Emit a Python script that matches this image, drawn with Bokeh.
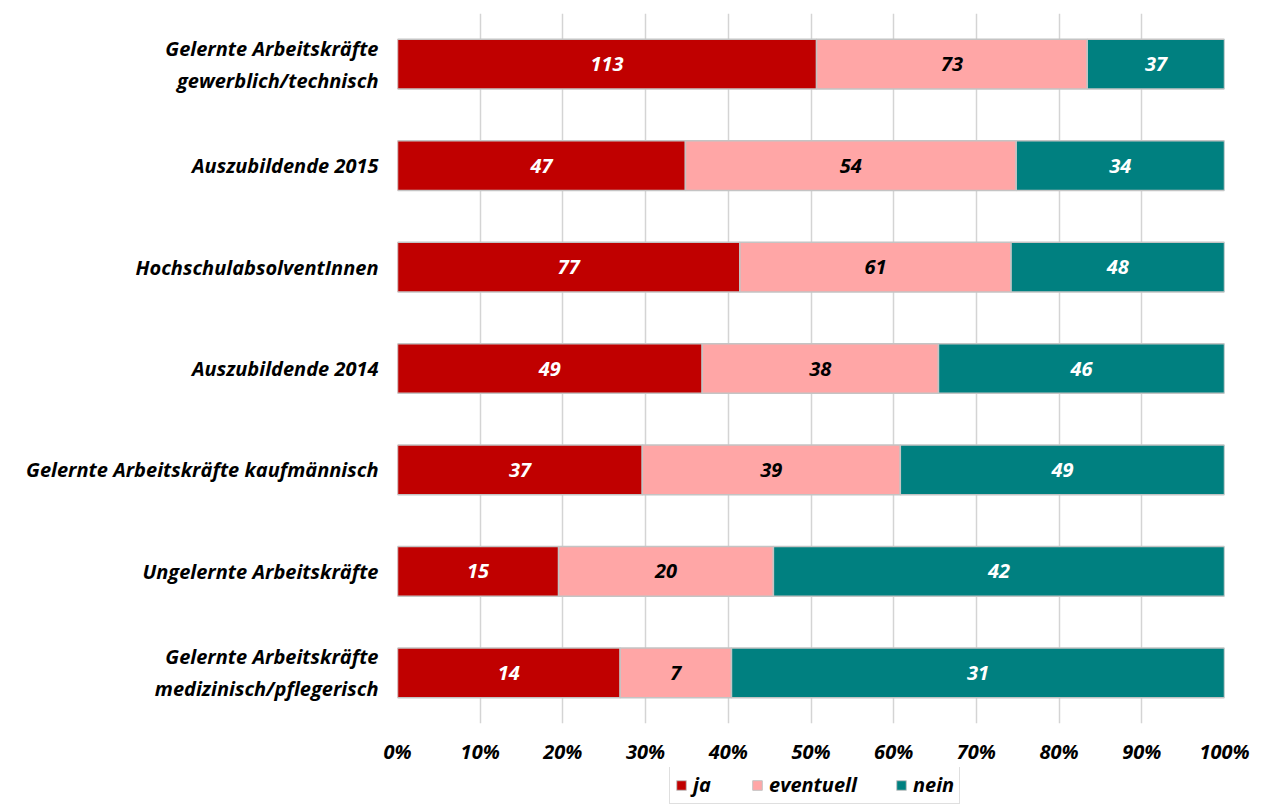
from bokeh.plotting import figure
from bokeh.layouts import column
from bokeh.models import ColumnDataSource, FactorRange, Legend, LegendItem, NumeralTickFormatter, FixedTicker, LabelSet
from bokeh.core.properties import value
from bokeh.embed import file_html
from bokeh.resources import INLINE

categories = [
    "Gelernte Arbeitskräfte\ngewerblich/technisch",
    "Auszubildende 2015",
    "HochschulabsolventInnen",
    "Auszubildende 2014",
    "Gelernte Arbeitskräfte kaufmännisch",
    "Ungelernte Arbeitskräfte",
    "Gelernte Arbeitskräfte\nmedizinisch/pflegerisch",
]
ja = [113, 47, 77, 49, 37, 15, 14]
eventuell = [73, 54, 61, 38, 39, 20, 7]
nein = [37, 34, 48, 46, 49, 42, 31]
series_names = ["ja", "eventuell", "nein"]
colors = ["#C00000", "#FFA6A6", "#008080"]
text_colors = ["white", "black", "white"]
x_ticks = [0, 0.1, 0.2, 0.3, 0.4, 0.5, 0.6, 0.7, 0.8, 0.9, 1.0]

FONT = "Open Sans"
FS = "20px"
BORDER = "#c4c4c4"

p = figure(
    width=1256, height=767,
    y_range=FactorRange(factors=list(reversed(categories))),
    x_range=(0, 1),
    output_backend="svg", toolbar_location=None,
    min_border_left=397, min_border_right=32, min_border_top=13, min_border_bottom=44,
)
p.outline_line_color = None

series = [ja, eventuell, nein]
totals = [a + b + c for a, b, c in zip(ja, eventuell, nein)]
lefts = [0.0] * len(categories)
for name, vals, col, tcol in zip(series_names, series, colors, text_colors):
    fr = [v / t for v, t in zip(vals, totals)]
    rights = [l + f for l, f in zip(lefts, fr)]
    src = ColumnDataSource(dict(
        cat=categories, left=lefts, right=rights,
        mid=[(l + r) / 2 for l, r in zip(lefts, rights)],
        lab=[str(v) for v in vals],
    ))
    p.hbar(y="cat", left="left", right="right", height=0.49, source=src,
           fill_color=col, line_color=BORDER, line_width=1.5)
    p.add_layout(LabelSet(x="mid", y="cat", text="lab", source=src,
                          text_align="center", text_baseline="middle",
                          text_color=tcol, text_font=value(FONT),
                          text_font_style="bold italic", text_font_size=FS))
    lefts = rights

p.xgrid.ticker = FixedTicker(ticks=x_ticks)
p.xgrid.grid_line_color = "#d4d4d4"
p.xgrid.grid_line_width = 1.5
p.ygrid.grid_line_color = None

p.xaxis.ticker = FixedTicker(ticks=x_ticks)
p.xaxis.formatter = NumeralTickFormatter(format="0%")
p.xaxis.axis_line_color = None
p.xaxis.major_tick_line_color = None
p.xaxis.minor_tick_line_color = None
p.xaxis.major_label_standoff = 8
p.xaxis.major_label_text_font = FONT
p.xaxis.major_label_text_font_style = "bold italic"
p.xaxis.major_label_text_font_size = FS
p.xaxis.major_label_text_color = "black"

p.yaxis.axis_line_color = None
p.yaxis.major_tick_line_color = None
p.yaxis.minor_tick_line_color = None
p.yaxis.major_label_standoff = 13
p.yaxis.major_label_text_font = FONT
p.yaxis.major_label_text_font_style = "bold italic"
p.yaxis.major_label_text_font_size = FS
p.yaxis.major_label_text_color = "black"

# legend strip below the chart (proxy renderers kept out of view)
lg = figure(
    width=1256, height=38, x_range=(0, 1), y_range=(0, 1),
    x_axis_type=None, y_axis_type=None,
    output_backend="svg", toolbar_location=None,
    min_border_left=397, min_border_right=32, min_border_top=0, min_border_bottom=0,
)
lg.outline_line_color = None
lg.xgrid.grid_line_color = None
lg.ygrid.grid_line_color = None
items = []
for name, col in zip(series_names, colors):
    proxy = ColumnDataSource(dict(y=[-5.0], left=[0.0], right=[0.0]))
    r = lg.hbar(y="y", left="left", right="right", height=0.5, source=proxy,
                fill_color=col, line_color=BORDER, line_width=1)
    items.append(LegendItem(label=name, renderers=[r]))

legend = Legend(
    items=items,
    orientation="horizontal",
    location=(272, 1),
    label_text_font=FONT, label_text_font_style="bold italic",
    label_text_font_size=FS, label_text_color="black",
    glyph_width=12, glyph_height=12,
    border_line_color="#bfbfbf", border_line_width=1.5,
    padding=5, spacing=38, label_standoff=6, margin=0,
    background_fill_color="white",
)
lg.add_layout(legend, "center")

layout = column(p, lg, spacing=0)
open("out.html", "w").write(file_html(layout, INLINE))
